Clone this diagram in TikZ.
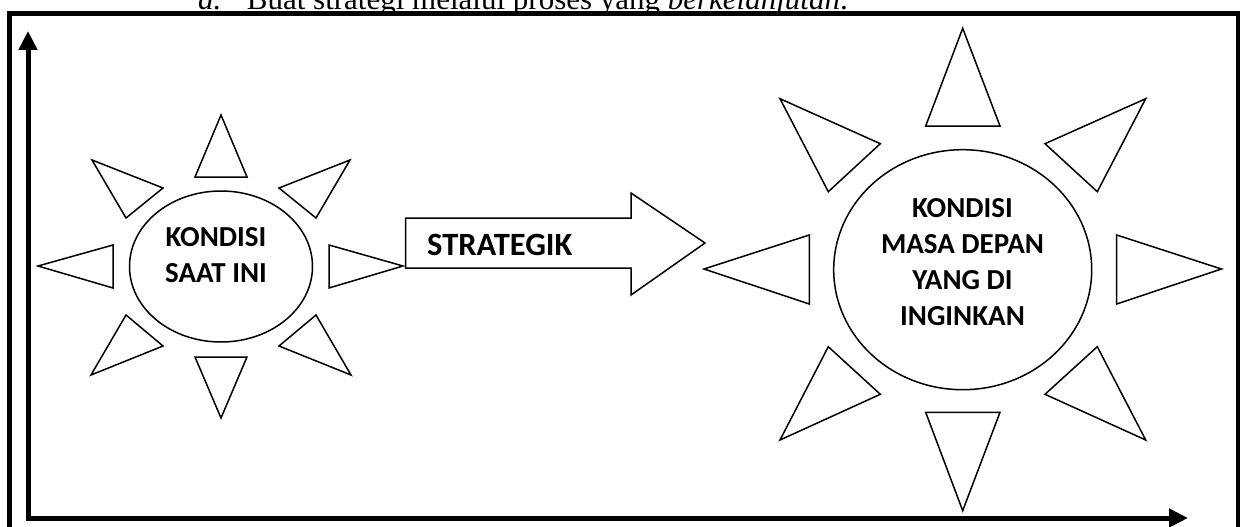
\documentclass[tikz,border=0pt]{standalone}
\usepackage{fontspec}
\setmainfont{Liberation Serif}
\newfontfamily\labelfont{Carlito}
\usetikzlibrary{shapes.geometric,arrows.meta}

\tikzset{
  ray/.style={draw=black, line width=1.5pt, line join=miter, fill=white},
  sunbody/.style={ellipse, draw=black, line width=1.5pt, inner sep=0pt, fill=white},
  sunlabel/.style={align=center, inner sep=0pt,
    font=\labelfont\bfseries\fontsize{29}{36}\selectfont},
  frameline/.style={draw=black, line width=4.5pt, line join=miter},
  axis/.style={draw=black, line width=5pt, line join=miter,
    arrows={Triangle[length=19pt,width=18pt]-Triangle[length=19pt,width=18pt]}},
  headline/.style={inner sep=0pt, anchor=base west,
    font=\fontsize{31}{36}\selectfont},
}

\begin{document}
\begin{tikzpicture}[x=1pt, y=-1pt]
\useasboundingbox (0,0) rectangle (1243,527);
\clip (0,0) rectangle (1243,527);

% heading line above the frame
\node[headline] (mark) at (198,9.3) {\textit{a.}};
\node[headline] (heading) at (246.7,9.3) {Buat strategi melalui proses yang \textit{berkelanjutan}.};

% outer frame
\draw[frameline] (9.5,540) -- (9.5,13.5) -- (1238,13.5) -- (1238,540);

% axes
\coordinate (yend) at (28,31);
\coordinate (origin) at (28,518);
\coordinate (xend) at (1188,518);
\draw[axis] (yend) -- (origin) -- (xend);

% present state: rays
\draw[ray] (221,115) -- (195,177) -- (247,177) -- cycle;
\draw[ray] (195,357) -- (247,357) -- (221,418) -- cycle;
\draw[ray] (38,266) -- (113,245) -- (113,288) -- cycle;
\draw[ray] (329,245) -- (329,288) -- (403,266) -- cycle;
\draw[ray] (92,160) -- (163,188) -- (126,218) -- cycle;
\draw[ray] (350,160) -- (279,188) -- (316,218) -- cycle;
\draw[ray] (126,315) -- (163,346) -- (91,375) -- cycle;
\draw[ray] (316,315) -- (279,346) -- (351,375) -- cycle;
\node[sunbody, minimum width=183pt, minimum height=151pt] (now) at (221,266.5) {};
\node[sunlabel] (nowtext) at (216,255) {KONDISI\\SAAT INI};

% strategy arrow
\draw[ray] (405.7,218) -- (631,218) -- (631,193) -- (705,243) -- (631,295)
  -- (631,268) -- (405.7,268) -- cycle;
\node[inner sep=0pt, anchor=west, font=\labelfont\bfseries\fontsize{32.5}{36}\selectfont]
  (strategy) at (427,245) {STRATEGIK};

% desired future state: rays
\draw[ray] (962.7,28.3) -- (925.7,126) -- (1000,126) -- cycle;
\draw[ray] (925.7,412.3) -- (1000,412.3) -- (962.7,510.7) -- cycle;
\draw[ray] (704,269) -- (809.3,235) -- (809.3,304) -- cycle;
\draw[ray] (1221.4,269) -- (1116.7,235) -- (1116.7,304) -- cycle;
\draw[ray] (780,98.7) -- (880.3,143.7) -- (828.3,191.7) -- cycle;
\draw[ray] (1145.7,98.7) -- (1045,143.7) -- (1097.3,191.7) -- cycle;
\draw[ray] (828.3,346.7) -- (880.3,394.3) -- (780,440) -- cycle;
\draw[ray] (1097.3,346.7) -- (1045,394.3) -- (1145.7,440) -- cycle;
\node[sunbody, minimum width=258pt, minimum height=240pt] (future) at (962.7,269.7) {};
\node[sunlabel] (futuretext) at (962.5,261.7) {KONDISI\\MASA DEPAN\\YANG DI\\INGINKAN};
\end{tikzpicture}
\end{document}
